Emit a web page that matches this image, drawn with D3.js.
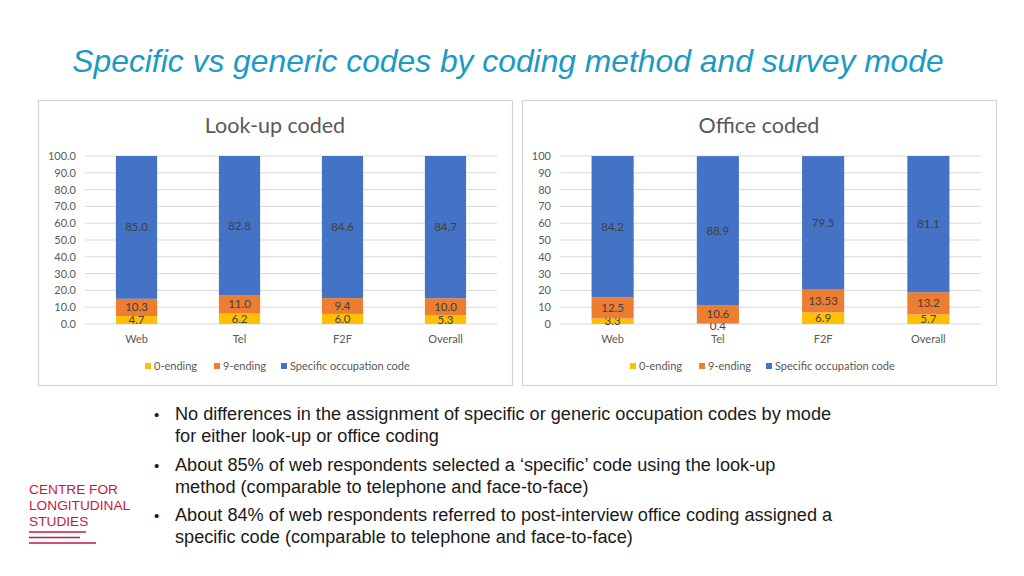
<!DOCTYPE html>
<html><head><meta charset="utf-8">
<script src="https://cdn.jsdelivr.net/npm/d3@7"></script>
<style>
body{margin:0;background:#fff;}
svg{display:block;}
</style></head>
<body>
<svg id="c" width="1024" height="576"></svg>
<script>
const categories = ["Web","Tel","F2F","Overall"];
const seriesNames = ["0-ending","9-ending","Specific occupation code"];
const lookupZero = [4.7, 6.2, 6.0, 5.3];
const lookupNine = [10.3, 11.0, 9.4, 10.0];
const lookupSpecific = [85.0, 82.8, 84.6, 84.7];
const officeZero = [3.3, 0.4, 6.9, 5.7];
const officeNine = [12.5, 10.6, 13.53, 13.2];
const officeSpecific = [84.2, 88.9, 79.5, 81.1];
const officeNineLabels = ["12.5","10.6","13.53","13.2"];
const yTicks = [0,10,20,30,40,50,60,70,80,90,100];
const bullets = [
  ["No differences in the assignment of specific or generic occupation codes by mode","for either look-up or office coding"],
  ["About 85% of web respondents selected a \u2018specific\u2019 code using the look-up","method (comparable to telephone and face-to-face)"],
  ["About 84% of web respondents referred to post-interview office coding assigned a","specific code (comparable to telephone and face-to-face)"]
];
const colors = ["#FFC000","#ED7D31","#4472C4"];

const svg = d3.select("#c");
const chartFont = "Lato, 'Open Sans', sans-serif";

svg.append("text").attr("x",508).attr("y",72).attr("text-anchor","middle")
  .attr("font-family","'Liberation Sans', Arial, sans-serif").attr("font-style","italic")
  .attr("font-size",31.8).attr("fill","#1B9AC4")
  .text("Specific vs generic codes by coding method and survey mode");

function panel(opt){
  const g = svg.append("g");
  g.append("rect").attr("x",opt.fx+0.5).attr("y",100.5).attr("width",opt.fw).attr("height",285)
    .attr("fill","#fff").attr("stroke","#d4d4d4").attr("stroke-width",1.2);
  g.append("text").attr("x",opt.titleX).attr("y",133).attr("text-anchor","middle")
    .attr("font-family",chartFont).attr("font-size",21.5).attr("fill","#595959").text(opt.title);
  const x = d3.scaleBand().domain(categories).range([opt.x0,opt.x1]).paddingInner(0.6).paddingOuter(0.3);
  const y = d3.scaleLinear().domain([0,100]).range([324,156]);
  g.selectAll(".grid").data(yTicks).join("line")
    .attr("x1",opt.x0).attr("x2",opt.x1).attr("y1",d=>y(d)).attr("y2",d=>y(d))
    .attr("stroke","#d9d9d9").attr("stroke-width",1);
  const yAxis = d3.axisLeft(y).tickValues(yTicks).tickFormat(opt.fmt).tickSize(0).tickPadding(9);
  const ya = g.append("g").attr("transform",`translate(${opt.x0},0)`).call(yAxis);
  ya.select(".domain").remove();
  ya.selectAll("text").attr("font-family",chartFont).attr("font-size",11).attr("fill","#595959");
  const xAxis = d3.axisBottom(x).tickSize(0).tickPadding(11);
  const xa = g.append("g").attr("transform","translate(0,324)").call(xAxis);
  xa.select(".domain").remove();
  xa.selectAll("text").attr("font-family",chartFont).attr("font-size",11).attr("fill","#595959");
  const rows = categories.map((c,i)=>({cat:c, v:[opt.zero[i],opt.nine[i],opt.spec[i]], labels:[opt.zero[i].toFixed(1), opt.nineLabels?opt.nineLabels[i]:opt.nine[i].toFixed(1), opt.spec[i].toFixed(1)]}));
  const stack = d3.stack().keys([0,1,2]).value((d,k)=>d.v[k]);
  const layers = stack(rows);
  layers.forEach((layer,k)=>{
    g.selectAll(null).data(layer).join("rect")
      .attr("x",d=>x(d.data.cat)).attr("width",x.bandwidth())
      .attr("y",d=>y(d[1])).attr("height",d=>y(d[0])-y(d[1]))
      .attr("fill",colors[k]);
    g.selectAll(null).data(layer).join("text")
      .attr("x",d=>x(d.data.cat)+x.bandwidth()/2)
      .attr("y",d=>(y(d[0])+y(d[1]))/2+4 + ((d[1]-d[0])<2 ? 2 : 0))
      .attr("text-anchor","middle").attr("font-family",chartFont).attr("font-size",11.5)
      .attr("fill","#404040").text(d=>d.data.labels[k]);
  });
  const lg = g.append("g").attr("transform",`translate(${opt.legX},366)`);
  const offs = [0,69,136];
  seriesNames.forEach((n,k)=>{
    lg.append("rect").attr("x",offs[k]).attr("y",-3).attr("width",6).attr("height",6).attr("fill",colors[k]);
    lg.append("text").attr("x",offs[k]+9).attr("y",4).attr("font-family",chartFont).attr("font-size",11)
      .attr("fill","#595959").text(n);
  });
}

panel({fx:38,fw:474,title:"Look-up coded",titleX:275,x0:85,x1:497,fmt:d3.format(".1f"),
  zero:lookupZero,nine:lookupNine,spec:lookupSpecific,legX:145});
panel({fx:522,fw:474,title:"Office coded",titleX:759,x0:560,x1:981,fmt:d3.format("d"),
  zero:officeZero,nine:officeNine,spec:officeSpecific,nineLabels:officeNineLabels,legX:630});

const bg = svg.append("g").attr("font-family","'Liberation Sans', Arial, sans-serif").attr("font-size",18.15).attr("fill","#1a1a1a");
const bulletY = [420,471,521];
bullets.forEach((b,i)=>{
  bg.append("text").attr("x",154).attr("y",bulletY[i]).attr("font-size",15).text("\u2022");
  b.forEach((line,j)=>{
    bg.append("text").attr("x",175).attr("y",bulletY[i]+j*22).text(line);
  });
});

const logo = svg.append("g").attr("font-family","'Liberation Sans', Arial, sans-serif").attr("font-size",13.7).attr("fill","#C8173F");
["CENTRE FOR","LONGITUDINAL","STUDIES"].forEach((t,i)=>{
  logo.append("text").attr("x",29).attr("y",494+i*16).text(t);
});
[[29,86,532],[29,80,537.5],[29,96,543]].forEach(l=>{
  svg.append("line").attr("x1",l[0]).attr("x2",l[1]).attr("y1",l[2]).attr("y2",l[2]).attr("stroke","#C8173F").attr("stroke-width",1.3);
});
</script>
</body></html>
